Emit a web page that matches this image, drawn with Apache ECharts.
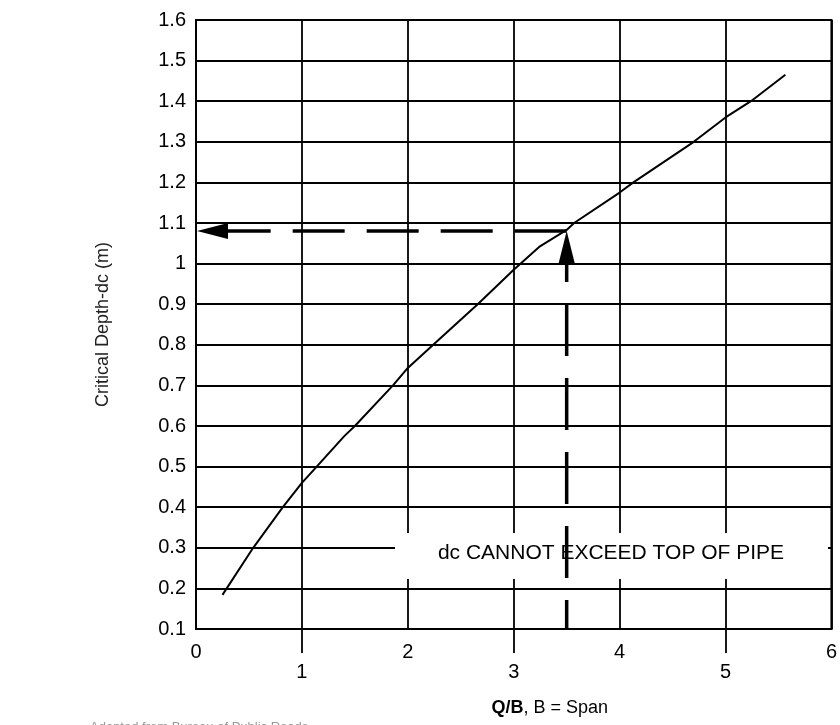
<!DOCTYPE html>
<html>
<head>
<meta charset="utf-8">
<script src="https://cdn.jsdelivr.net/npm/echarts@6.0.0/dist/echarts.min.js"></script>
<style>
html,body{margin:0;padding:0;background:#fff;}
#chart{width:840px;height:725px;}
</style>
</head>
<body>
<div id="chart"></div>
<script>
// Q/B values and critical depth dc (m)
const qbValues = [0.25, 0.54, 0.82, 1.0, 1.14, 1.4, 1.5, 1.86, 2.0, 2.24, 2.66, 3.0, 3.24, 3.5, 3.57, 4.0, 4.13, 4.7, 5.0, 5.24, 5.565];
const dcValues = [0.184, 0.3, 0.4, 0.46, 0.5, 0.575, 0.6, 0.7, 0.743, 0.8, 0.9, 0.985, 1.041, 1.083, 1.1, 1.175, 1.2, 1.3, 1.36, 1.4, 1.465];
// Example reading shown by the dashed arrows
const readingPoint = [3.5, 1.08];
// Axis ranges / ticks
const xLongTicks = [1, 3, 5];
const yMin = 0.1, yMax = 1.6, yStep = 0.1;
const xMin = 0, xMax = 6, xStep = 1;
const noteText = 'dc CANNOT EXCEED TOP OF PIPE';
const yAxisTitle = 'Critical Depth-dc (m)';
const sourceText = 'Adapted from Bureau of Public Roads';

const FONT = '"Liberation Sans", Arial, Helvetica, sans-serif';
const chart = echarts.init(document.getElementById('chart'), null, {renderer: 'canvas'});

const curveData = qbValues.map((x, i) => [x, dcValues[i]]);

const option = {
  backgroundColor: '#ffffff',
  animation: false,
  grid: {
    left: 196, right: 7, top: 20, bottom: 96,
    show: true, borderColor: '#000', borderWidth: 2, backgroundColor: 'transparent'
  },
  xAxis: [
    {
      type: 'value', min: xMin, max: xMax, interval: xStep,
      name: '{b|Q/B}, B = Span',
      nameLocation: 'middle', nameGap: 70,
      nameTextStyle: {
        fontFamily: FONT, fontSize: 18, color: '#000', padding: [0, 0, 0, 72],
        rich: { b: { fontFamily: FONT, fontSize: 18, fontWeight: 'bold', color: '#000' } }
      },
      axisLine: { show: true, lineStyle: { color: '#000', width: 2 } },
      axisTick: { show: false },
      axisLabel: {
        margin: 13, fontFamily: FONT, fontSize: 20, color: '#000', lineHeight: 20,
        formatter: function (v) { return (Math.round(v) % 2 === 1) ? '\n' + v : String(v); }
      },
      splitLine: { show: true, lineStyle: { color: '#000', width: 1.8 } }
    },
    {
      type: 'value', min: xMin, max: xMax, interval: xStep, position: 'bottom',
      axisLine: { show: false },
      axisLabel: { show: false },
      splitLine: { show: false },
      axisTick: { show: true, customValues: xLongTicks, length: 24, lineStyle: { color: '#000', width: 1.8 } }
    }
  ],
  yAxis: {
    type: 'value', min: yMin, max: yMax, interval: yStep,
    name: yAxisTitle, nameLocation: 'middle', nameGap: 84, nameRotate: 90,
    nameTextStyle: { fontFamily: FONT, fontSize: 18, color: '#222' },
    axisLine: { show: true, lineStyle: { color: '#000', width: 2 } },
    axisTick: { show: false },
    axisLabel: {
      margin: 10, fontFamily: FONT, fontSize: 20, color: '#000',
      formatter: function (v) { return String(Math.round(v * 10) / 10); }
    },
    splitLine: { show: true, lineStyle: { color: '#000', width: 1.8 } }
  },
  graphic: [
    {
      type: 'rect', z: 50,
      shape: { x: 395, y: 533, width: 433, height: 46 },
      style: { fill: '#ffffff' }
    },
    {
      type: 'text', z: 51,
      x: 611, y: 553,
      style: { text: noteText, font: '21px ' + FONT, fill: '#000', align: 'center', verticalAlign: 'middle' }
    },
    {
      type: 'text', z: 51,
      x: 90, y: 721,
      style: { text: sourceText, font: '13px ' + FONT, fill: '#999', align: 'left', verticalAlign: 'top' }
    }
  ],
  series: [
    {
      type: 'line', data: curveData, symbol: 'none', smooth: false,
      lineStyle: { color: '#000', width: 2 }, z: 3
    },
    {
      type: 'custom', coordinateSystem: 'cartesian2d', z: 100,
      data: [readingPoint],
      renderItem: function (params, api) {
        const p = api.coord([api.value(0), api.value(1)]);
        const pb = api.coord([api.value(0), yMin]);
        const pl = api.coord([xMin, api.value(1)]);
        const L = 32, W = 16;
        const dashStyle = { stroke: '#000', lineWidth: 3.5, lineDash: [52, 22], fill: null };
        return {
          type: 'group',
          children: [
            { type: 'line', shape: { x1: pb[0], y1: pb[1], x2: p[0], y2: p[1] + L },
              style: Object.assign({}, dashStyle, { lineDashOffset: 23 }) },
            { type: 'polygon', shape: { points: [[p[0], p[1]], [p[0] - W / 2, p[1] + L], [p[0] + W / 2, p[1] + L]] },
              style: { fill: '#000' } },
            { type: 'line', shape: { x1: p[0], y1: p[1], x2: pl[0] + L, y2: pl[1] },
              style: Object.assign({}, dashStyle) },
            { type: 'polygon', shape: { points: [[pl[0] + 1, pl[1]], [pl[0] + L, pl[1] - W / 2], [pl[0] + L, pl[1] + W / 2]] },
              style: { fill: '#000' } }
          ]
        };
      }
    }
  ]
};
chart.setOption(option);
</script>
</body>
</html>
